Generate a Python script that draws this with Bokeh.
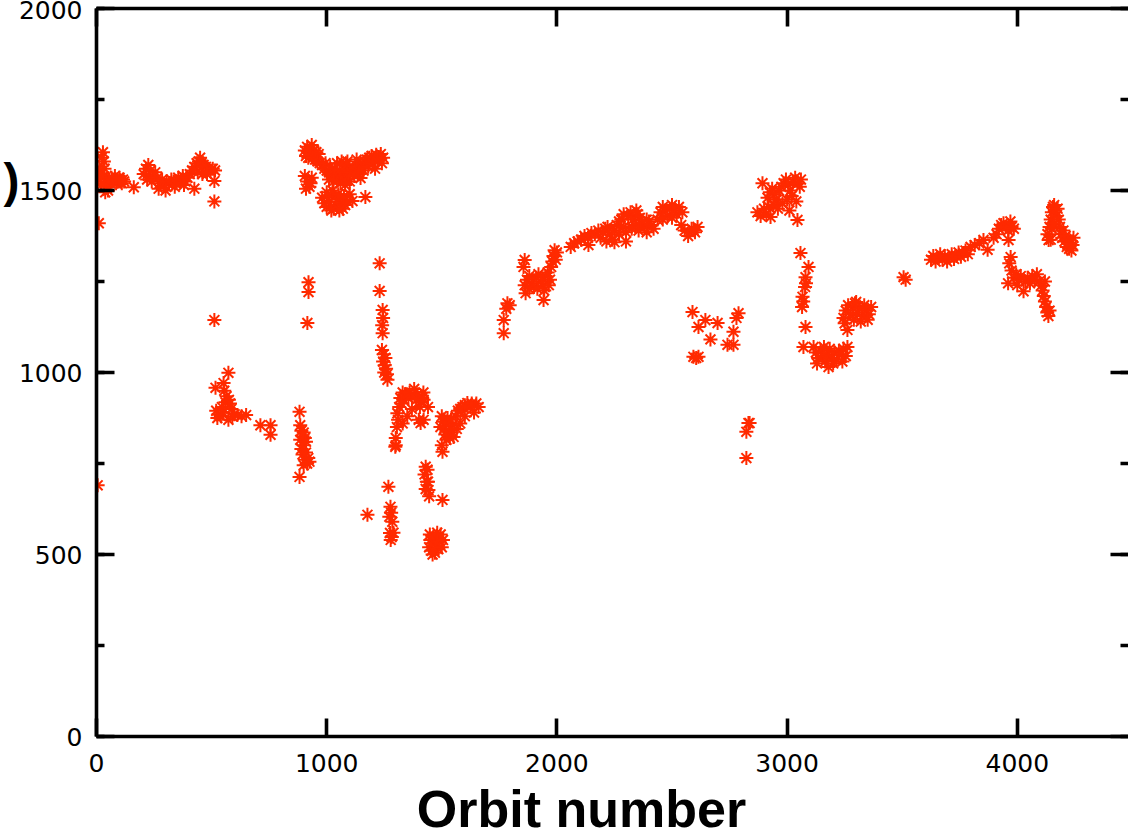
from bokeh.plotting import figure
from bokeh.models import (Range1d, LinearAxis, SingleIntervalTicker, FixedTicker,
                          ColumnDataSource, CustomJSTickFormatter)
from bokeh.embed import file_html
from bokeh.resources import INLINE

# (orbit number, value) pairs, grouped by observing period
period_1 = [(5, 690), (10, 1410), (8, 1530), (12, 1560), (18, 1545), (22, 1590),
            (28, 1605), (32, 1580), (35, 1560), (30, 1540), (40, 1525), (45, 1510),
            (50, 1500), (55, 1530), (60, 1520), (65, 1535), (70, 1525), (75, 1530),
            (80, 1540), (85, 1520), (90, 1530), (95, 1525), (100, 1535), (105, 1528),
            (110, 1520), (115, 1530), (120, 1525), (20, 1515), (38, 1495), (162, 1509)]

period_2 = [(205, 1545), (215, 1560), (225, 1570), (235, 1555), (245, 1540), (255, 1550),
            (220, 1530), (240, 1525), (265, 1535), (275, 1520), (285, 1530), (295, 1515),
            (305, 1525), (315, 1520), (325, 1530), (335, 1525), (345, 1520), (355, 1535),
            (365, 1530), (375, 1540), (385, 1525), (395, 1535), (270, 1505), (300, 1500),
            (340, 1510), (380, 1515), (405, 1545), (415, 1555), (425, 1565), (435, 1575),
            (445, 1580), (455, 1575), (465, 1570), (475, 1565), (485, 1560), (495, 1555),
            (505, 1560), (515, 1555), (440, 1550), (460, 1545), (480, 1545), (425, 1505),
            (512, 1526), (512, 1470), (450, 1590)]

period_3 = [(512, 1144), (573, 999), (552, 971), (517, 958), (555, 950), (565, 935),
            (575, 925), (560, 918), (580, 915), (520, 895), (530, 885), (540, 880),
            (550, 890), (525, 875), (573, 870), (590, 880), (600, 885), (612, 883),
            (630, 880), (650, 883), (712, 855), (756, 855), (756, 829), (545, 905),
            (585, 900)]

period_4 = [(882, 892), (885, 855), (890, 840), (895, 825), (885, 815), (900, 800),
            (905, 820), (890, 790), (895, 775), (905, 760), (910, 780), (915, 750),
            (900, 745), (920, 765), (925, 755), (882, 713), (900, 835), (910, 810),
            (921, 1248), (921, 1221), (916, 1136)]

period_5 = [(905, 1610), (915, 1620), (925, 1615), (935, 1625), (945, 1610), (955, 1605),
            (965, 1600), (910, 1595), (920, 1590), (930, 1600), (940, 1590), (950, 1585),
            (960, 1580), (970, 1575), (980, 1570), (990, 1560), (1000, 1555), (1010, 1550),
            (1020, 1545), (1030, 1540), (1040, 1535), (1050, 1530), (1060, 1540), (1070, 1535),
            (1080, 1545), (1090, 1530), (1100, 1525), (995, 1575), (1015, 1565), (1035, 1560),
            (1055, 1555), (1075, 1560), (1095, 1550), (1045, 1575), (1065, 1580), (1085, 1570),
            (1010, 1530), (1030, 1525), (1060, 1520), (1080, 1515), (1090, 1580),
            (1105, 1550), (1115, 1555), (1125, 1560), (1135, 1565), (1145, 1570), (1155, 1575),
            (1165, 1580), (1175, 1585), (1185, 1590), (1195, 1595), (1205, 1590), (1215, 1598),
            (1225, 1592), (1235, 1600), (1245, 1590), (1120, 1540), (1140, 1545), (1160, 1555),
            (1180, 1565), (1200, 1575), (1220, 1580), (1240, 1575), (1147, 1534), (1130, 1585),
            (1210, 1560), (905, 1540), (915, 1525), (925, 1510), (935, 1535), (910, 1505),
            (930, 1520), (980, 1480), (990, 1465), (1000, 1455), (1010, 1470), (1020, 1485),
            (1030, 1450), (1040, 1460), (1050, 1475), (1060, 1465), (1070, 1450), (1080, 1460),
            (1090, 1470), (1000, 1495), (1025, 1500), (1050, 1490), (1075, 1485), (1020, 1445),
            (1055, 1445), (1112, 1471), (1168, 1482), (1100, 1490)]

period_6 = [(1230, 1300), (1230, 1224), (1243, 1172), (1245, 1150), (1241, 1130), (1243, 1108),
            (1240, 1062), (1248, 1050), (1255, 1040), (1245, 1030), (1252, 1020), (1258, 1010),
            (1262, 995), (1250, 1000), (1264, 980), (1177, 609), (1268, 686), (1277, 631),
            (1280, 615), (1272, 604), (1285, 590), (1275, 559), (1282, 548), (1278, 540),
            (1290, 560)]

period_7 = [(1300, 800), (1298, 796), (1305, 850), (1310, 870), (1307, 888), (1315, 905),
            (1320, 930), (1330, 945), (1340, 940), (1335, 925), (1345, 935), (1355, 930),
            (1325, 915), (1360, 945), (1380, 955), (1395, 940), (1400, 930), (1410, 920),
            (1405, 905), (1415, 930), (1420, 945), (1390, 925), (1408, 861), (1400, 870),
            (1370, 900), (1350, 880), (1330, 860), (1421, 925), (1421, 870), (1440, 905),
            (1300, 820)]

period_8 = [(1430, 741), (1425, 720), (1435, 700), (1430, 680), (1438, 733), (1442, 677),
            (1445, 660), (1440, 700), (1503, 650), (1445, 520), (1450, 540), (1455, 510),
            (1460, 530), (1465, 550), (1470, 505), (1475, 525), (1480, 545), (1485, 515),
            (1490, 535), (1495, 555), (1500, 520), (1505, 540), (1460, 500), (1480, 560),
            (1448, 555)]

period_9 = [(1494, 850), (1500, 880), (1505, 865), (1510, 845), (1515, 830), (1520, 860),
            (1525, 875), (1530, 840), (1535, 820), (1540, 835), (1545, 855), (1551, 823),
            (1503, 782), (1500, 800), (1560, 880), (1570, 895), (1580, 900), (1590, 905),
            (1600, 910), (1611, 916), (1625, 905), (1580, 860), (1600, 880), (1540, 870),
            (1520, 815), (1565, 845), (1630, 915), (1650, 915), (1660, 905), (1640, 890)]

period_10 = [(1769, 1108), (1769, 1144), (1785, 1190), (1780, 1175), (1795, 1185),
             (1855, 1290), (1860, 1309), (1864, 1218), (1942, 1199),
             (1860, 1240), (1870, 1255), (1880, 1265), (1890, 1245), (1900, 1235),
             (1910, 1260), (1920, 1270), (1930, 1250), (1940, 1240), (1950, 1265),
             (1960, 1275), (1970, 1255), (1880, 1230), (1915, 1230), (1945, 1225),
             (1965, 1240), (1975, 1290), (1980, 1305), (1985, 1320), (1990, 1336),
             (1995, 1310), (2000, 1330), (2060, 1345), (2075, 1355), (2090, 1360),
             (2105, 1365), (2120, 1375), (2135, 1370), (2137, 1350), (2150, 1383),
             (2165, 1380), (2180, 1390), (2190, 1370), (2200, 1385), (2210, 1395),
             (2220, 1400), (2230, 1380), (2240, 1365), (2250, 1390), (2260, 1405),
             (2270, 1415), (2280, 1420), (2290, 1400), (2300, 1385), (2310, 1430),
             (2320, 1440), (2330, 1420), (2340, 1405), (2350, 1435), (2360, 1425),
             (2370, 1410), (2380, 1400), (2390, 1420), (2400, 1415), (2410, 1405),
             (2420, 1395), (2215, 1360), (2250, 1358), (2270, 1380), (2300, 1360),
             (2325, 1395), (2355, 1390), (2390, 1385), (2290, 1435), (2345, 1445),
             (2437, 1420), (2450, 1440), (2460, 1455), (2470, 1445), (2480, 1430),
             (2490, 1450), (2500, 1460), (2510, 1445), (2520, 1435), (2530, 1455),
             (2545, 1440), (2460, 1420), (2500, 1425), (2540, 1405), (2555, 1390),
             (2570, 1375), (2585, 1395), (2600, 1385), (2611, 1400), (2593, 1391)]

period_11 = [(2589, 1166), (2615, 1125), (2645, 1144), (2698, 1136), (2667, 1091),
             (2741, 1076), (2767, 1076), (2767, 1112), (2789, 1163), (2593, 1043),
             (2615, 1043), (2605, 1040), (2780, 1150), (2832, 861), (2823, 837),
             (2823, 765), (2837, 861)]

period_12 = [(2893, 1520), (2871, 1440), (2885, 1430), (2900, 1450), (2910, 1435),
             (2920, 1455), (2928, 1427), (2915, 1480), (2925, 1495), (2935, 1505),
             (2945, 1490), (2955, 1475), (2965, 1500), (2975, 1510), (2985, 1520),
             (2995, 1530), (3005, 1515), (3015, 1500), (3025, 1525), (3035, 1535),
             (3045, 1520), (3055, 1510), (2940, 1460), (2960, 1450), (2980, 1465),
             (3000, 1475), (3020, 1485), (3040, 1470), (3045, 1419), (3060, 1530),
             (3010, 1445)]

period_13 = [(3058, 1328), (3093, 1290), (3080, 1262), (3082, 1245), (3078, 1235),
             (3067, 1208), (3070, 1195), (3065, 1180), (3080, 1125), (3071, 1070),
             (3115, 1070), (3125, 1055), (3135, 1040), (3145, 1060), (3155, 1045),
             (3165, 1030), (3175, 1050), (3180, 1015), (3185, 1065), (3195, 1040),
             (3205, 1055), (3215, 1035), (3225, 1060), (3235, 1050), (3245, 1065),
             (3255, 1045), (3262, 1070), (3130, 1025), (3160, 1070), (3200, 1025),
             (3240, 1030)]

period_14 = [(3245, 1150), (3255, 1170), (3265, 1185), (3275, 1160), (3285, 1180),
             (3295, 1190), (3305, 1165), (3315, 1175), (3325, 1155), (3335, 1185),
             (3345, 1170), (3355, 1160), (3365, 1180), (3262, 1117), (3250, 1135),
             (3290, 1145), (3320, 1140), (3350, 1145), (3300, 1194), (3506, 1262),
             (3515, 1255)]

period_15 = [(3625, 1310), (3635, 1320), (3645, 1305), (3655, 1315), (3665, 1325),
             (3675, 1310), (3685, 1320), (3695, 1305), (3705, 1315), (3715, 1325),
             (3725, 1312), (3735, 1320), (3745, 1330), (3755, 1318), (3765, 1328),
             (3775, 1335), (3785, 1325), (3797, 1345), (3815, 1350), (3835, 1355),
             (3853, 1364), (3871, 1337), (3897, 1370), (3910, 1380), (3920, 1395),
             (3930, 1405), (3940, 1410), (3950, 1400), (3960, 1390), (3970, 1415),
             (3962, 1364), (3975, 1400), (3985, 1395)]

period_16 = [(3971, 1317), (3965, 1300), (3975, 1280), (3985, 1260), (3995, 1270),
             (4005, 1255), (4015, 1265), (4027, 1223), (4035, 1250), (4045, 1260),
             (4055, 1245), (4065, 1265), (4075, 1255), (4085, 1270), (4095, 1250),
             (4105, 1240), (4110, 1225), (4115, 1210), (4120, 1195), (4125, 1180),
             (4130, 1165), (4135, 1155), (4140, 1170), (4120, 1250), (4000, 1240),
             (3960, 1245), (4131, 1380), (4136, 1364), (4140, 1400), (4145, 1420),
             (4150, 1440), (4155, 1455), (4160, 1460), (4165, 1445), (4170, 1430),
             (4175, 1450), (4180, 1420), (4185, 1400), (4190, 1380), (4195, 1370),
             (4200, 1390), (4205, 1360), (4210, 1375), (4215, 1345), (4220, 1365),
             (4225, 1340), (4230, 1355), (4235, 1335), (4240, 1350), (4244, 1370),
             (4150, 1395), (4160, 1410), (4145, 1365)]

periods = [period_1, period_2, period_3, period_4, period_5, period_6, period_7,
           period_8, period_9, period_10, period_11, period_12, period_13,
           period_14, period_15, period_16]

orbit = [o for per in periods for o, _ in per]
value = [v for per in periods for _, v in per]
source = ColumnDataSource(data=dict(orbit=orbit, value=value))

# axis titles: text and the axis position each one is anchored to
x_title = "Orbit number"
x_title_at = 2107
y_title_tail = ")"
y_title_at = 1527

MARK_RED = "#ff2a00"
TICK_FONT = "DejaVu Sans"
TITLE_FONT = "Liberation Sans"

p = figure(width=1128, height=840, output_backend="svg", toolbar_location=None,
           x_range=Range1d(0, 4483), y_range=Range1d(0, 2000),
           x_axis_location=None, y_axis_location=None,
           min_border_left=96, min_border_right=0, min_border_top=8,
           min_border_bottom=103)
p.outline_line_color = None
p.xgrid.visible = False
p.ygrid.visible = False
p.background_fill_color = "white"
p.border_fill_color = "white"

p.scatter("orbit", "value", source=source, marker="asterisk", size=14,
          line_color=MARK_RED, line_width=2)

blank = CustomJSTickFormatter(code="return ''")


def style_axis(ax, labels, is_x):
    ax.axis_line_color = "black"
    ax.axis_line_width = 3.6
    ax.major_tick_line_color = "black"
    ax.major_tick_line_width = 3.6
    ax.major_tick_in = 18
    ax.major_tick_out = 0
    if is_x:
        ax.minor_tick_line_color = None
    else:
        ax.minor_tick_line_color = "black"
        ax.minor_tick_line_width = 3.6
        ax.minor_tick_in = 8
        ax.minor_tick_out = 0
    if labels:
        ax.major_label_text_font = TICK_FONT
        ax.major_label_text_font_size = "25px"
        ax.major_label_text_color = "black"
    else:
        ax.formatter = blank
        ax.major_label_text_font_size = "1px"
        ax.major_label_standoff = 0


def title_axis(at, text, standoff):
    # a bare axis carrying one label: used to set an axis title at a chosen spot
    ax = LinearAxis(ticker=FixedTicker(ticks=[at], minor_ticks=[]))
    ax.major_label_overrides = {at: text}
    ax.axis_line_color = None
    ax.major_tick_line_color = None
    ax.minor_tick_line_color = None
    ax.major_tick_in = 0
    ax.major_tick_out = 0
    ax.major_label_standoff = standoff
    ax.major_label_text_font = TITLE_FONT
    ax.major_label_text_font_style = "bold"
    ax.major_label_text_font_size = "52px"
    ax.major_label_text_color = "black"
    return ax


x_ticker = SingleIntervalTicker(interval=1000, num_minor_ticks=0)
y_ticker = SingleIntervalTicker(interval=500, num_minor_ticks=2)

bottom = LinearAxis(ticker=x_ticker)
style_axis(bottom, True, True)
bottom.major_label_standoff = 17
p.add_layout(bottom, "below")
p.add_layout(title_axis(x_title_at, x_title, 5), "below")

top = LinearAxis(ticker=x_ticker)
style_axis(top, False, True)
p.add_layout(top, "above")

left = LinearAxis(ticker=y_ticker)
style_axis(left, True, False)
left.major_label_standoff = 14
p.add_layout(left, "left")
paren = title_axis(y_title_at, y_title_tail, -4)
paren.major_label_text_font_size = "48px"
p.add_layout(paren, "left")

right = LinearAxis(ticker=y_ticker)
style_axis(right, False, False)
right.axis_line_color = None
p.add_layout(right, "right")

open("out.html", "w").write(file_html(p, INLINE))
